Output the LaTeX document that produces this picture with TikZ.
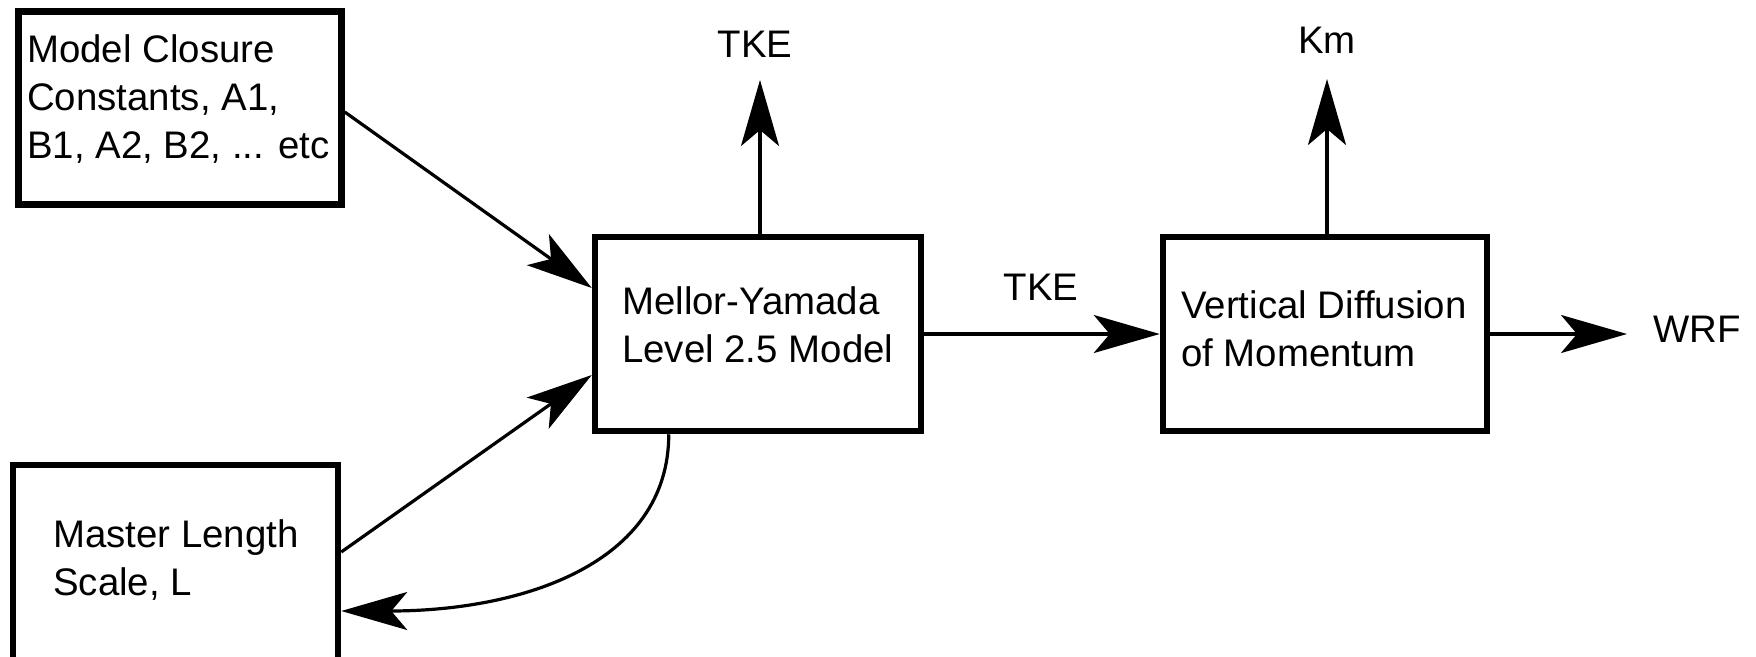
\documentclass[tikz,border=0pt]{standalone}
\usepackage{fontspec}
\setmainfont{Liberation Sans}
\usetikzlibrary{arrows.meta,calc}
\begin{document}
\begin{tikzpicture}[x=1pt,y=-1pt,
  blk/.style={draw=black, line width=6.5pt, inner sep=0pt},
  txt/.style={font=\fontsize{38.4}{48}\selectfont, align=left, inner sep=0pt, anchor=base west},
  lbl/.style={font=\fontsize{38.4}{48}\selectfont, inner sep=0pt, anchor=base},
  arr/.style={line width=3.2pt, -{Stealth[length=66pt,width=38pt,inset=16pt]}}]
\useasboundingbox (0,0) rectangle (1756,656);
\clip (0,0) rectangle (1756,656);
% boxes
\node[blk, minimum width=323pt, minimum height=193pt] (mc) at (180,108) {};
\node[txt] (mct) at (27,158) {Model Closure\\Constants, A1,\\B1, A2, B2, ... etc};
\node[blk, minimum width=326pt, minimum height=194pt] (my) at (758,334) {};
\node[txt] (myt) at (622,362) {Mellor-Yamada\\Level 2.5 Model};
\node[blk, minimum width=324pt, minimum height=194pt] (vd) at (1325,334) {};
\node[txt] (vdt) at (1181,366) {Vertical Diffusion\\of Momentum};
\node[blk, minimum width=325pt, minimum height=292pt] (ml) at (175.5,611) {};
\node[txt] (mlt) at (53,595) {Master Length\\Scale, L};
% labels
\node[lbl] (tke1) at (755,57) {TKE};
\node[lbl] (km) at (1327,53) {Km};
\node[lbl] (tke2) at (1041,300) {TKE};
\node[lbl, anchor=base west] (wrf) at (1653,342) {WRF};
% free ends
\coordinate (tkeTip) at (760,80);
\coordinate (kmTip) at (1327,79);
\coordinate (wrfTip) at (1627,334);
% connectors
\draw[arr] (my.north -| tkeTip) -- (tkeTip);
\draw[arr] (vd.north -| kmTip) -- (kmTip);
\draw[arr] (my.east) -- (vd.west);
\draw[arr] (vd.east) -- (vd.east -| wrfTip);
\draw[arr] ($(mc.east)+(0,4)$) -- ($(my.west)+(0,-46)$);
\draw[arr] ($(ml.east)+(0,-59)$) -- ($(my.west)+(0,41)$);
\draw[arr] ($(my.south west)+(77,0)$) .. controls +(0,130) and +(180,0) .. (ml.east);
\end{tikzpicture}
\end{document}
